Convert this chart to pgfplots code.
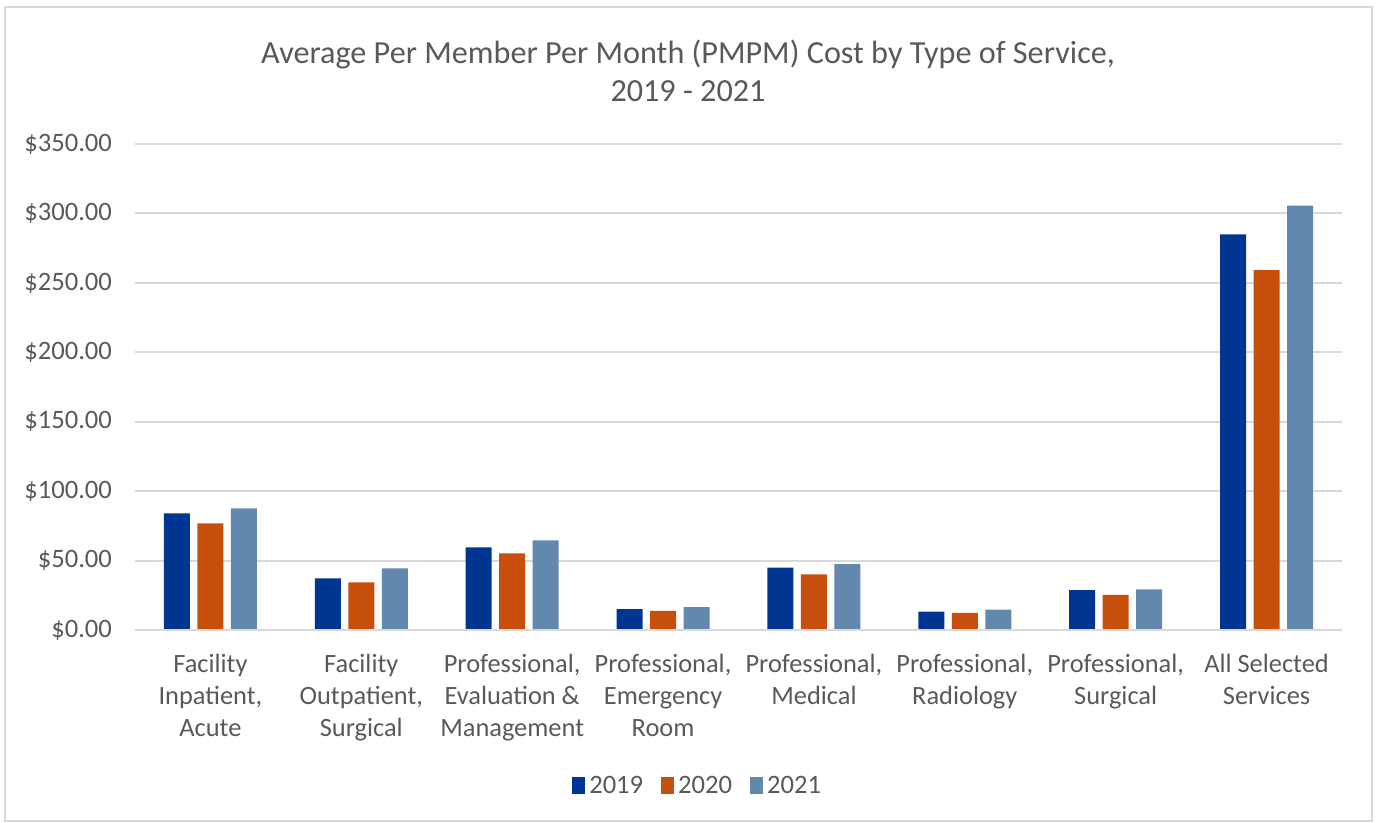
\documentclass[border=0pt]{standalone}
\usepackage{pgfplots}
\pgfplotsset{compat=1.18}
\usepackage{fontspec}
\setmainfont{Carlito}
\definecolor{c19}{RGB}{0,53,145}
\definecolor{c20}{RGB}{200,78,11}
\definecolor{c21}{RGB}{98,137,173}
\definecolor{txt}{RGB}{89,89,89}
\definecolor{grd}{RGB}{217,217,217}
\begin{document}
\begin{tikzpicture}[x=1pt,y=1pt]
\useasboundingbox (0,0) rectangle (688.5,411.5);
\draw[grd,line width=1pt] (2.5,1) rectangle (686,408);
\node[txt,font=\fontsize{16.1}{19}\selectfont,align=center] at (344,376) {Average Per Member Per Month (PMPM) Cost by Type of Service,\\2019 - 2021};
\begin{axis}[
  at={(67.5pt,96.5pt)}, anchor=south west,
  scale only axis, width=603.5pt, height=243pt,
  xmin=-0.5, xmax=7.5, ymin=0, ymax=350,
  ytick={0,50,...,350},
  xtick={0,...,7},
  xticklabels={{Facility\\Inpatient,\\Acute},{Facility\\Outpatient,\\Surgical},{Professional,\\Evaluation \&\\Management},{Professional,\\Emergency\\Room},{Professional,\\Medical},{Professional,\\Radiology},{Professional,\\Surgical},{All Selected\\Services}},
  xticklabel style={align=center,font=\fontsize{13.2}{16}\selectfont,text=txt,yshift=-8.5pt},
  yticklabel style={font=\fontsize{13.3}{16}\selectfont,text=txt,xshift=-8pt},
  yticklabel={\$\pgfmathprintnumber[fixed,fixed zerofill,precision=2,assume math mode=true]{\tick}},
  axis line style={draw=none},
  major tick length=0pt,
  ymajorgrids, grid style={grd,line width=1pt},
  ybar, bar width=13pt,
  legend style={at={(0.467,-0.321)},anchor=center,draw=none,legend columns=3,font=\fontsize{13.3}{16}\selectfont,text=txt,/tikz/every even column/.append style={column sep=7pt}},
  legend image code/.code={\fill[#1] (0pt,-4pt) rectangle (6.5pt,4.5pt);},
]
\addplot[fill=c19,draw=none,bar shift=-16.75pt] coordinates {(0,83.9) (1,37.2) (2,59.5) (3,15.1) (4,45.0) (5,13.2) (6,28.8) (7,284.9)};
\addplot[fill=c20,draw=none,bar shift=0pt] coordinates {(0,76.7) (1,34.3) (2,55.2) (3,13.7) (4,40.1) (5,12.3) (6,25.2) (7,259.1)};
\addplot[fill=c21,draw=none,bar shift=16.75pt] coordinates {(0,87.5) (1,44.4) (2,64.5) (3,16.5) (4,47.4) (5,14.7) (6,29.3) (7,305.7)};
\draw[grd,line width=1pt] (axis cs:-0.5,0) -- (axis cs:7.5,0);
\legend{2019,2020,2021}
\end{axis}
\end{tikzpicture}
\end{document}
